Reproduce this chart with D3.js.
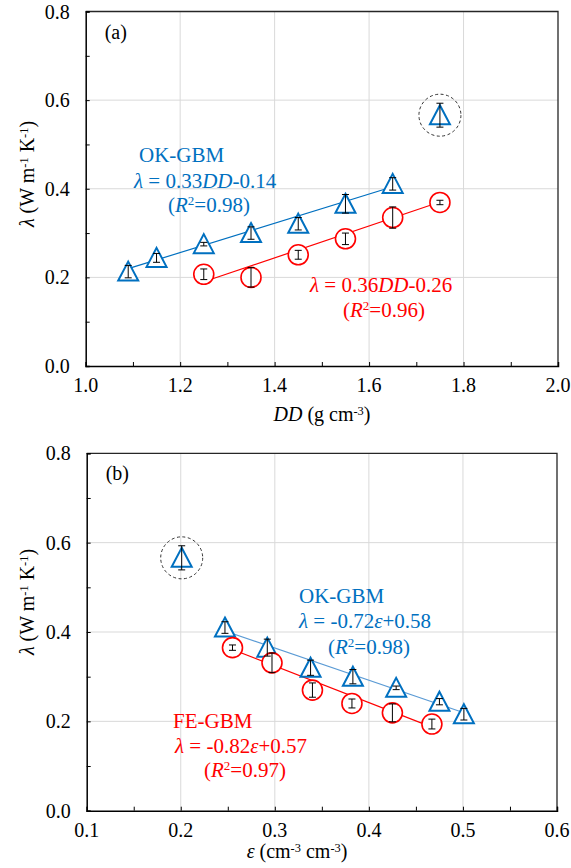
<!DOCTYPE html>
<html>
<head>
<meta charset="utf-8">
<script src="https://cdnjs.cloudflare.com/ajax/libs/d3/7.8.5/d3.min.js"></script>
<style>
body { margin:0; background:#fff; }
text { font-family:"Liberation Serif","DejaVu Serif","Times New Roman",serif; }
</style>
</head>
<body>
<svg id="chart"></svg>
<script>
// panel (a): lambda vs dry density
var ddOK = [1.09, 1.15, 1.25, 1.35, 1.45, 1.55, 1.65]
var lamOKa = [0.213, 0.244, 0.275, 0.300, 0.321, 0.366, 0.411]
var errOKa = [0.014, 0.010, 0.004, 0.014, 0.014, 0.021, 0.014]
var ddFE = [1.25, 1.35, 1.45, 1.55, 1.65, 1.75]
var lamFEa = [0.207, 0.200, 0.251, 0.287, 0.335, 0.369]
var errFEa = [0.012, 0.022, 0.010, 0.013, 0.024, 0.005]
var outlierA = [1.75, 0.566, 0.027]
var fitOKa = [0.33, -0.14]
var fitFEa = [0.36, -0.26]
var xTicksA = [1.0, 1.2, 1.4, 1.6, 1.8, 2.0]

// panel (b): lambda vs porosity
var epsOK = [0.247, 0.292, 0.338, 0.383, 0.429, 0.475, 0.501]
var lamOKb = [0.410, 0.365, 0.320, 0.300, 0.275, 0.244, 0.216]
var errOKb = [0.013, 0.019, 0.017, 0.016, 0.004, 0.007, 0.013]
var epsFE = [0.255, 0.297, 0.340, 0.382, 0.425, 0.467]
var lamFEb = [0.365, 0.331, 0.270, 0.240, 0.219, 0.194]
var errFEb = [0.006, 0.022, 0.016, 0.010, 0.020, 0.011]
var outlierB = [0.201, 0.566, 0.027]
var fitOKb = [-0.72, 0.58]
var fitFEb = [-0.82, 0.57]
var xTicksB = [0.1, 0.2, 0.3, 0.4, 0.5, 0.6]

var yTicks = [0.0, 0.2, 0.4, 0.6, 0.8]

var BLUE = "#0070C0"
var RED = "#FF0000"

var svg = d3.select("#chart")
    .attr("width", 571)
    .attr("height", 868)

var toPts = function(xs, ys, es)
{
    return xs.map(function(x, i) { return {x:x, y:ys[i], e:es[i]} })
}

var drawPanel = function(p)
{
    var xScale = d3.scaleLinear().domain(p.xDomain).range([p.left, p.right])
    var yScale = d3.scaleLinear().domain([0, 0.8]).range([p.bottom, p.top])
    var g = svg.append("g")

    // gridlines
    g.selectAll(".gx").data(p.xTicks.slice(1, -1)).enter()
        .append("line")
        .attr("x1", function(d) { return xScale(d) })
        .attr("x2", function(d) { return xScale(d) })
        .attr("y1", p.top).attr("y2", p.bottom)
        .attr("stroke", "#d9d9d9").attr("stroke-width", 1)
    g.selectAll(".gy").data(yTicks.slice(1, -1)).enter()
        .append("line")
        .attr("y1", function(d) { return yScale(d) })
        .attr("y2", function(d) { return yScale(d) })
        .attr("x1", p.left).attr("x2", p.right)
        .attr("stroke", "#d9d9d9").attr("stroke-width", 1)

    // frame (top/right)
    g.append("path")
        .attr("d", "M" + p.left + "," + p.top + "H" + p.right + "V" + p.bottom)
        .attr("fill", "none").attr("stroke", "#262626").attr("stroke-width", 1.3)

    // axes with inward minor ticks
    var xMinor = d3.range(p.xDomain[0], p.xDomain[1] + 1e-9, p.minorStep)
    var xAxis = d3.axisTop(xScale).tickValues(xMinor).tickSize(4).tickFormat("")
    g.append("g")
        .attr("transform", "translate(0," + p.bottom + ")")
        .call(xAxis)
        .call(function(a) { a.select(".domain").attr("stroke", "#000").attr("stroke-width", 1.5) })
    var yAxis = d3.axisRight(yScale).tickValues(d3.range(0, 0.81, 0.1)).tickSize(4).tickFormat("")
    g.append("g")
        .attr("transform", "translate(" + p.left + ",0)")
        .call(yAxis)
        .call(function(a) { a.select(".domain").attr("stroke", "#000").attr("stroke-width", 1.5) })

    // tick labels
    g.selectAll(".xl").data(p.xTicks).enter()
        .append("text")
        .attr("x", function(d) { return xScale(d) })
        .attr("y", p.bottom + 26)
        .attr("text-anchor", "middle")
        .attr("font-size", 20)
        .text(function(d) { return d.toFixed(1) })
    g.selectAll(".yl").data(yTicks).enter()
        .append("text")
        .attr("x", p.left - 16)
        .attr("y", function(d) { return yScale(d) + 7 })
        .attr("text-anchor", "end")
        .attr("font-size", 20)
        .text(function(d) { return d.toFixed(1) })

    // fit lines
    var line = d3.line()
        .x(function(d) { return xScale(d) })
    var drawFit = function(xs, coef, color, w)
    {
        var ends = d3.extent(xs)
        g.append("path")
            .datum(ends)
            .attr("d", line.y(function(d) { return yScale(coef[0] * d + coef[1]) }))
            .attr("fill", "none")
            .attr("stroke", color)
            .attr("stroke-width", w)
    }
    drawFit(p.okX, p.okFit, p.okLine, 1.2)
    drawFit(p.feX, p.feFit, RED, 1.2)

    // markers
    var ok = toPts(p.okX, p.okY, p.okE)
    ok.push({x:p.outlier[0], y:p.outlier[1], e:p.outlier[2]})
    var fe = toPts(p.feX, p.feY, p.feE)

    g.selectAll(".tri").data(ok).enter()
        .append("path")
        .attr("d", function(d)
        {
            var cx = xScale(d.x), cy = yScale(d.y)
            return "M" + cx + "," + (cy - 10) + "L" + (cx + 10) + "," + (cy + 9) +
                   "L" + (cx - 10) + "," + (cy + 9) + "Z"
        })
        .attr("fill", "#fff")
        .attr("stroke", BLUE)
        .attr("stroke-width", 2)
    g.selectAll(".cir").data(fe).enter()
        .append("circle")
        .attr("cx", function(d) { return xScale(d.x) })
        .attr("cy", function(d) { return yScale(d.y) })
        .attr("r", 10)
        .attr("fill", "#fff")
        .attr("stroke", RED)
        .attr("stroke-width", 1.6)

    // error bars
    var drawErr = function(pts)
    {
        var eb = g.selectAll(null).data(pts).enter().append("g")
        eb.append("line")
            .attr("x1", function(d) { return xScale(d.x) })
            .attr("x2", function(d) { return xScale(d.x) })
            .attr("y1", function(d) { return yScale(d.y - d.e) })
            .attr("y2", function(d) { return yScale(d.y + d.e) })
        eb.append("line")
            .attr("x1", function(d) { return xScale(d.x) - 3.5 })
            .attr("x2", function(d) { return xScale(d.x) + 3.5 })
            .attr("y1", function(d) { return yScale(d.y - d.e) })
            .attr("y2", function(d) { return yScale(d.y - d.e) })
        eb.append("line")
            .attr("x1", function(d) { return xScale(d.x) - 3.5 })
            .attr("x2", function(d) { return xScale(d.x) + 3.5 })
            .attr("y1", function(d) { return yScale(d.y + d.e) })
            .attr("y2", function(d) { return yScale(d.y + d.e) })
        eb.selectAll("line").attr("stroke", "#000").attr("stroke-width", 1)
    }
    drawErr(ok)
    drawErr(fe)

    // dashed ring around outlier
    g.append("circle")
        .attr("cx", xScale(p.outlier[0]))
        .attr("cy", yScale(p.outlier[1]))
        .attr("r", 21)
        .attr("fill", "none")
        .attr("stroke", "#333")
        .attr("stroke-width", 1)
        .attr("stroke-dasharray", "3,2.5")

    // panel letter
    g.append("text")
        .attr("x", p.left + 19).attr("y", p.top + 27)
        .attr("font-size", 20)
        .text(p.letter)

    return g
}

// rich text helper: parts = [text, italic?, superscript?]
var richText = function(g, x, y, color, size, parts)
{
    var t = g.append("text")
        .attr("x", x).attr("y", y)
        .attr("fill", color)
        .attr("font-size", size)
    parts.forEach(function(pt)
    {
        var s = t.append("tspan").text(pt[0])
        if (pt[1]) s.attr("font-style", "italic")
        if (pt[2] == 1) s.attr("font-size", size * 0.62).attr("dy", -size * 0.32)
        if (pt[2] == -1) s.attr("dy", size * 0.32)
    })
    return t
}

var panelA = drawPanel({
    left:85.7, right:558, top:11.5, bottom:366,
    xDomain:[1.0, 2.0], xTicks:xTicksA, minorStep:0.1,
    okX:ddOK, okY:lamOKa, okE:errOKa, okFit:fitOKa, okLine:BLUE,
    feX:ddFE, feY:lamFEa, feE:errFEa, feFit:fitFEa,
    outlier:outlierA, letter:"(a)"
})
var panelB = drawPanel({
    left:86.7, right:557, top:453.3, bottom:810.7,
    xDomain:[0.1, 0.6], xTicks:xTicksB, minorStep:0.05,
    okX:epsOK, okY:lamOKb, okE:errOKb, okFit:fitOKb, okLine:"#5B9BD5",
    feX:epsFE, feY:lamFEb, feE:errFEb, feFit:fitFEb,
    outlier:outlierB, letter:"(b)"
})

// axis titles
richText(panelA, 322, 421, "#000", 20, [["DD", true], [" (g cm"], ["-3", false, 1], [")", false, -1]])
    .attr("text-anchor", "middle")
richText(panelB, 297, 858, "#000", 20, [["ε", true], [" (cm"], ["-3", false, 1], [" cm", false, -1], ["-3", false, 1], [")", false, -1]])
    .attr("text-anchor", "middle")

var yTitle = function(g, cy)
{
    richText(g, 0, 0, "#000", 20, [["λ", true], [" (W m"], ["-1", false, 1], [" K", false, -1], ["-1", false, 1], [")", false, -1]])
        .attr("text-anchor", "middle")
        .attr("transform", "translate(34," + cy + ") rotate(-90)")
}
yTitle(panelA, 174)
yTitle(panelB, 602)

// annotations, panel a
richText(panelA, 139, 161.7, BLUE, 21, [["OK-GBM"]])
richText(panelA, 134, 188.3, BLUE, 21, [["λ", true], [" = 0.33"], ["DD", true], ["-0.14"]])
richText(panelA, 168, 212, BLUE, 21, [["("], ["R", true], ["2", false, 1], ["=0.98)", false, -1]])
richText(panelA, 310, 292, RED, 21, [["λ", true], [" = 0.36"], ["DD", true], ["-0.26"]])
richText(panelA, 343, 317, RED, 21, [["("], ["R", true], ["2", false, 1], ["=0.96)", false, -1]])

// annotations, panel b
richText(panelB, 299, 603, BLUE, 21, [["OK-GBM"]])
richText(panelB, 299, 628, BLUE, 21, [["λ", true], [" = -0.72"], ["ε", true], ["+0.58"]])
richText(panelB, 328, 654, BLUE, 21, [["("], ["R", true], ["2", false, 1], ["=0.98)", false, -1]])
richText(panelB, 173, 728, RED, 21, [["FE-GBM"]])
richText(panelB, 175, 753, RED, 21, [["λ", true], [" = -0.82"], ["ε", true], ["+0.57"]])
richText(panelB, 204, 777, RED, 21, [["("], ["R", true], ["2", false, 1], ["=0.97)", false, -1]])
</script>
</body>
</html>
